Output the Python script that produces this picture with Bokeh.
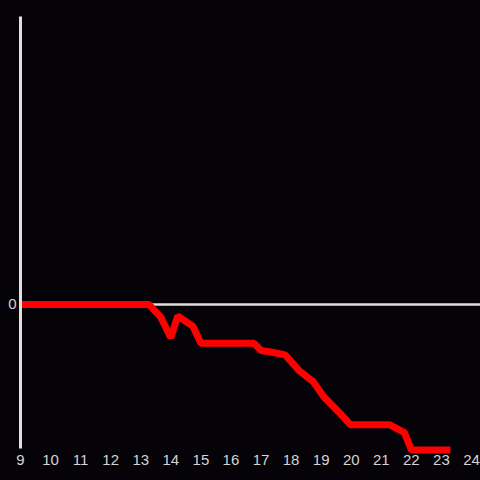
from bokeh.plotting import figure
from bokeh.models import Range1d, FixedTicker
from bokeh.embed import file_html
from bokeh.resources import INLINE

# data
x_vals = [9, 13.27, 13.67, 14.0, 14.23, 14.73, 15.0, 16.77, 17.0, 17.33, 17.8,
          18.27, 18.73, 19.1, 19.6, 19.97, 21.27, 21.77, 22.0, 23.3]
y_vals = [0, 0, -0.09, -0.23, -0.08, -0.15, -0.27, -0.27, -0.32, -0.33, -0.35,
          -0.46, -0.535, -0.645, -0.75, -0.835, -0.835, -0.89, -1.01, -1.01]
x_ticks = list(range(9, 25))
y_ticks = [0]

BG = "#050307"
AX = "#e0e0e0"
LBL = "#d4d4d4"

p = figure(width=480, height=480, output_backend="svg", toolbar_location=None,
           x_range=Range1d(9, 24.3), y_range=Range1d(-1.042, 2.0),
           min_border_left=20, min_border_right=0, min_border_top=16,
           min_border_bottom=26)
p.background_fill_color = BG
p.border_fill_color = BG
p.outline_line_color = None

p.xgrid.visible = False
p.ygrid.ticker = FixedTicker(ticks=y_ticks)
p.ygrid.grid_line_color = AX
p.ygrid.grid_line_width = 2.5

p.line(x_vals, y_vals, line_color="#ff0000", line_width=7)

xa = p.xaxis[0]
xa.ticker = FixedTicker(ticks=x_ticks)
xa.axis_line_color = None
xa.major_tick_line_color = None
xa.minor_tick_line_color = None
xa.major_tick_out = 0
xa.major_tick_in = 0
xa.major_label_standoff = 0
xa.major_label_text_font = "Liberation Sans"
xa.major_label_text_font_size = "15px"
xa.major_label_text_color = LBL

ya = p.yaxis[0]
ya.ticker = FixedTicker(ticks=y_ticks)
ya.bounds = (-1, 2)
ya.axis_line_color = AX
ya.axis_line_width = 3
ya.major_tick_line_color = None
ya.minor_tick_line_color = None
ya.major_tick_out = 0
ya.major_tick_in = 0
ya.major_label_standoff = 4
ya.major_label_text_font = "Liberation Sans"
ya.major_label_text_font_size = "15px"
ya.major_label_text_color = LBL

template = """{% block preamble %}<style>html, body { background: #050307; }</style>{% endblock %}"""

open("out.html", "w").write(file_html(p, INLINE, template=template))
